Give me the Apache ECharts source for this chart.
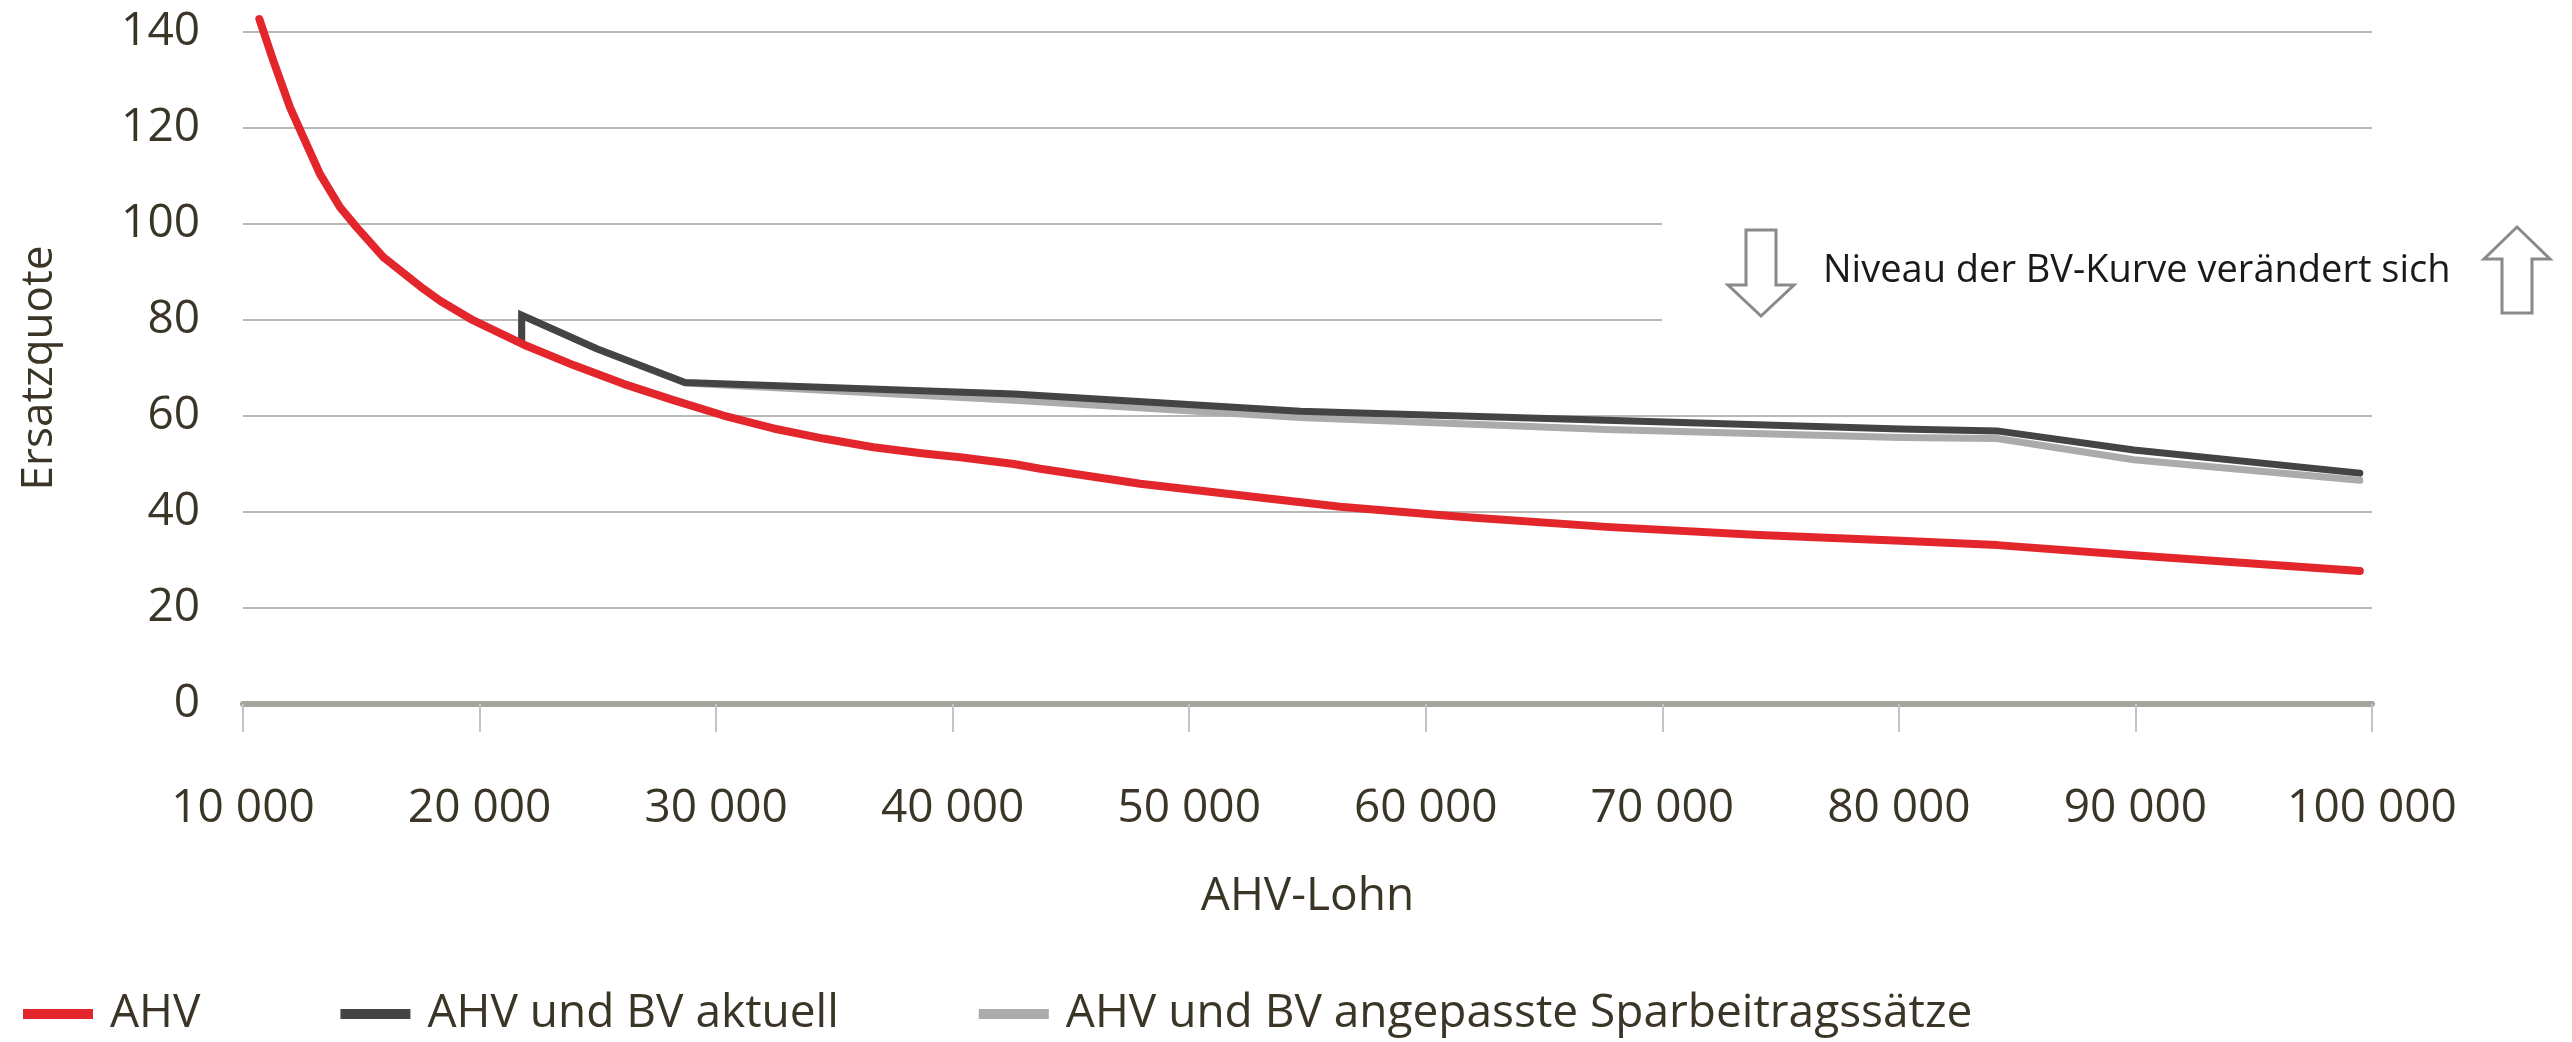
<!DOCTYPE html>
<html>
<head>
<meta charset="utf-8">
<script src="https://cdn.jsdelivr.net/npm/echarts@6/dist/echarts.min.js"></script>
<style>
  html, body { margin: 0; padding: 0; background: #fff; }
  #chart { width: 2572px; height: 1042px; }
</style>
</head>
<body>
<div id="chart"></div>
<script>
// Replacement rate (Ersatzquote, %) by AHV-insured wage (CHF)
const seriesNames = ['AHV', 'AHV und BV aktuell', 'AHV und BV angepasste Sparbeitragssätze'];

const ahvWage = [10690, 11281, 11987, 12550, 13256, 14101, 14808, 15932, 17624, 18330, 19738, 21852, 23966, 26080, 28194, 30309, 32423, 34537, 36651, 38765, 40317, 42592, 43700, 47928, 52156, 56385, 61459, 67632, 74101, 80063, 84151, 89930, 99485];
const ahvRate = [142.7, 134.0, 124.3, 118.1, 110.4, 103.5, 99.3, 93.1, 86.5, 84.0, 79.9, 74.9, 70.6, 66.7, 63.3, 60.1, 57.4, 55.3, 53.5, 52.2, 51.4, 50.0, 49.0, 45.9, 43.5, 41.1, 39.0, 36.9, 35.2, 34.0, 33.1, 31.0, 27.7];

const bvWage = [21780, 21780, 24955, 28689, 42592, 54693, 67632, 80063, 84151, 89930, 99485];
const bvRate = [75.4, 81.0, 74.0, 67.0, 64.6, 61.0, 59.1, 57.3, 56.9, 52.9, 48.1];

const bvNewWage = [21780, 21780, 24955, 28689, 42592, 54693, 67632, 80063, 84151, 89930, 99485];
const bvNewRate = [75.4, 81.0, 74.0, 66.9, 63.3, 59.7, 57.2, 55.5, 55.3, 50.9, 46.6];

const xTicks = [10000, 20000, 30000, 40000, 50000, 60000, 70000, 80000, 90000, 100000];
const xTickLabels = ['10 000', '20 000', '30 000', '40 000', '50 000', '60 000', '70 000', '80 000', '90 000', '100 000'];
const yTickLabels = ['0', '20', '40', '60', '80', '100', '120', '140'];

const noteText = 'Niveau der BV-Kurve verändert sich';

const pairs = (xs, ys) => xs.map((x, i) => [x, ys[i]]);

const textColor = '#3a3527';
const font = '"Open Sans", "Noto Sans", sans-serif';

const chart = echarts.init(document.getElementById('chart'), null, { renderer: 'canvas' });

chart.setOption({
  backgroundColor: '#ffffff',
  animation: false,
  textStyle: { fontFamily: font },
  grid: { left: 243, right: 200, top: 32, bottom: 338, containLabel: false },
  xAxis: {
    type: 'value',
    min: 10000,
    max: 100000,
    interval: 10000,
    name: 'AHV-Lohn',
    nameLocation: 'middle',
    nameGap: 170,
    nameTextStyle: { color: textColor, fontSize: 46, fontFamily: font, verticalAlign: 'top' },
    axisLine: { show: true, onZero: false, lineStyle: { color: '#a5a5a0', width: 6 } },
    axisTick: { show: true, length: 28, inside: false, lineStyle: { color: '#c4c4c4', width: 2 } },
    axisLabel: {
      color: textColor, fontSize: 46, fontFamily: font, margin: 82,
      formatter: v => { const i = xTicks.indexOf(v); return i >= 0 ? xTickLabels[i] : ''; }
    },
    splitLine: { show: false }
  },
  yAxis: {
    type: 'value',
    min: 0,
    max: 140,
    interval: 20,
    name: 'Ersatzquote',
    nameLocation: 'middle',
    nameGap: 182,
    nameRotate: 90,
    nameTextStyle: { color: textColor, fontSize: 44, fontFamily: font },
    axisLine: { show: false },
    axisTick: { show: false },
    axisLabel: {
      color: textColor, fontSize: 46, fontFamily: font, margin: 43,
      formatter: v => yTickLabels[Math.round(v / 20)] ?? ''
    },
    splitLine: { show: true, lineStyle: { color: '#b8b8b5', width: 2 } }
  },
  legend: {
    left: 18,
    top: 986,
    icon: 'rect',
    itemWidth: 70,
    itemHeight: 10,
    itemGap: 140,
    textStyle: { color: textColor, fontSize: 46, fontFamily: font, padding: [0, 0, 0, 12] },
    data: seriesNames
  },
  series: [
    {
      name: seriesNames[2], type: 'line', z: 2, clip: false,
      data: pairs(bvNewWage, bvNewRate),
      showSymbol: false, symbol: 'none',
      lineStyle: { color: '#ababab', width: 7, join: 'round', cap: 'round' },
      itemStyle: { color: '#ababab' }
    },
    {
      name: seriesNames[1], type: 'line', z: 3, clip: false,
      data: pairs(bvWage, bvRate),
      showSymbol: false, symbol: 'none',
      lineStyle: { color: '#444444', width: 7, join: 'miter', cap: 'round' },
      itemStyle: { color: '#444444' }
    },
    {
      name: seriesNames[0], type: 'line', z: 4, clip: false,
      data: pairs(ahvWage, ahvRate),
      showSymbol: false, symbol: 'none',
      lineStyle: { color: '#e2262b', width: 8, join: 'round', cap: 'round' },
      itemStyle: { color: '#e2262b' }
    }
  ],
  graphic: [
    { type: 'rect', z: 5, shape: { x: 1662, y: 180, width: 910, height: 158 }, style: { fill: '#ffffff' } },
    {
      type: 'polygon', z: 6,
      shape: { points: [[1746, 230], [1776, 230], [1776, 285], [1794, 285], [1761, 316], [1728, 285], [1746, 285]] },
      style: { fill: '#ffffff', stroke: '#8a8a8a', lineWidth: 3 }
    },
    {
      type: 'polygon', z: 6,
      shape: { points: [[2517, 227], [2550, 259], [2532, 259], [2532, 313], [2502, 313], [2502, 259], [2484, 259]] },
      style: { fill: '#ffffff', stroke: '#8a8a8a', lineWidth: 3 }
    },
    {
      type: 'text', z: 6, left: 1823, top: 252,
      style: { text: noteText, fill: '#1a1a1a', font: '38px "Open Sans", "Noto Sans", sans-serif' }
    }
  ]
});
</script>
</body>
</html>
